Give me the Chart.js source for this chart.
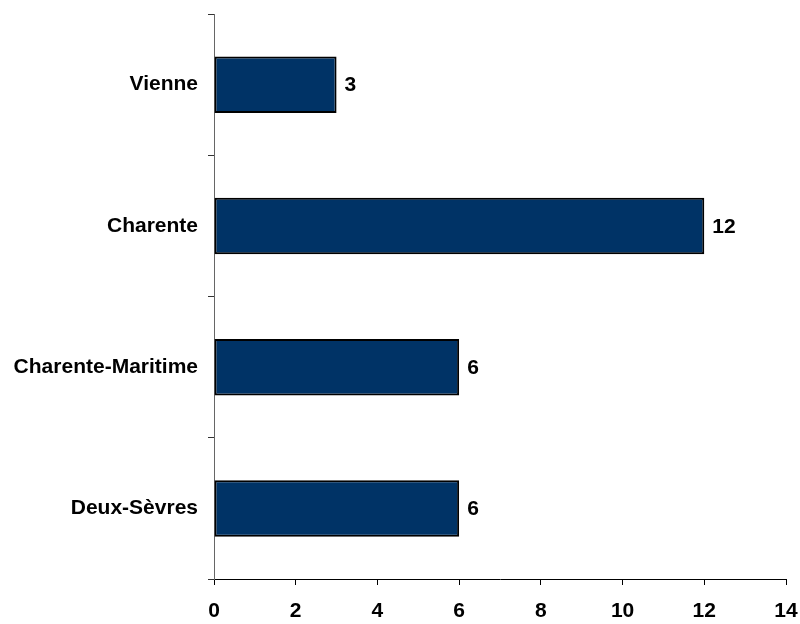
<!DOCTYPE html>
<html>
<head>
<meta charset="utf-8">
<script src="https://cdn.jsdelivr.net/npm/chart.js@4/dist/chart.umd.min.js"></script>
<style>
  html, body { margin:0; padding:0; background:#fff; }
  #wrap { width:800px; height:624px; }
</style>
</head>
<body>
<div id="wrap"><canvas id="c" width="800" height="624"></canvas></div>
<script>
  const categories = ['Vienne', 'Charente', 'Charente-Maritime', 'Deux-Sèvres'];
  const values = [3, 12, 6, 6];
  const xTicks = [0, 2, 4, 6, 8, 10, 12, 14];

  // valeurs au bout des barres
  const valueLabels = {
    id: 'valueLabels',
    afterDatasetsDraw(chart){
      const ctx = chart.ctx;
      const meta = chart.getDatasetMeta(0);
      ctx.save();
      ctx.font = 'bold 21px "Liberation Sans", Arial, sans-serif';
      ctx.fillStyle = '#000';
      ctx.textBaseline = 'middle';
      ctx.textAlign = 'left';
      meta.data.forEach((bar, i)=>{
        ctx.fillText(String(values[i]), bar.x + 8, bar.y + 1);
      });
      ctx.restore();
    }
  };

  const font = { family: '"Liberation Sans", Arial, sans-serif', size: 21, weight: 'bold' };

  new Chart(document.getElementById('c'), {
    type: 'bar',
    data: {
      labels: categories,
      datasets: [{
        data: values,
        backgroundColor: '#003366',
        borderColor: '#000',
        borderWidth: 2,
        borderSkipped: false,
        categoryPercentage: 1,
        barPercentage: 0.4
      }]
    },
    options: {
      indexAxis: 'y',
      responsive: false,
      animation: false,
      layout: { padding: { top: 14, right: 14, left: 0, bottom: 0 } },
      plugins: { legend: { display:false }, tooltip: { enabled:false } },
      scales: {
        x: {
          min: 0, max: 14,
          afterBuildTicks: axis => { axis.ticks = xTicks.map(v=>({ value: v })); },
          afterFit: axis => { axis.height = 45; axis.paddingLeft = 0; axis.paddingRight = 0; },
          grid: { drawOnChartArea: false, drawTicks: true, tickLength: 6, color: '#000' },
          border: { color: '#000', width: 1 },
          ticks: { font, color: '#000', padding: 14, maxRotation: 0 }
        },
        y: {
          afterFit: axis => { axis.width = 214; axis.paddingTop = 0; axis.paddingBottom = 0; },
          grid: { drawOnChartArea: false, drawTicks: true, tickLength: 6, color: '#333', offset: true },
          border: { color: '#666', width: 1 },
          ticks: { font, color: '#000', padding: 10 }
        }
      }
    },
    plugins: [valueLabels]
  });
</script>
</body>
</html>
